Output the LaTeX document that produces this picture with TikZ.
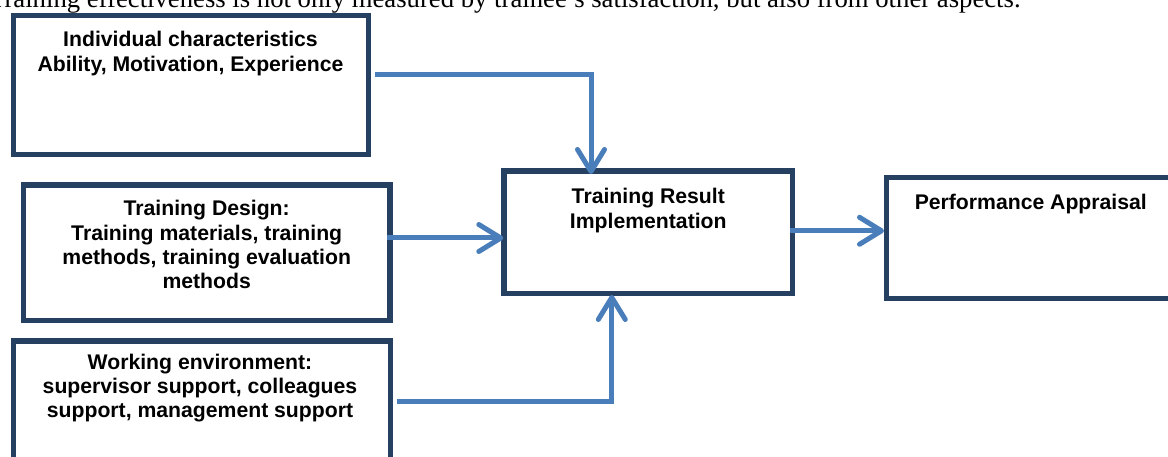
\documentclass[tikz,border=0pt]{standalone}
\usepackage{fontspec}
\newfontfamily\boxfont{Liberation Sans}
\newfontfamily\serffont{Liberation Serif}
\usetikzlibrary{arrows.meta,calc}
\definecolor{boxblue}{RGB}{38,64,97}
\definecolor{arrblue}{RGB}{74,126,187}
\begin{document}
\begin{tikzpicture}[x=1pt,y=-1pt,
  box/.style={draw=boxblue, line width=5.3pt, rectangle, inner sep=0pt, outer sep=0pt},
  lbl/.style={font={\boxfont\bfseries\fontsize{21.2}{24.4}\selectfont}, align=center, inner sep=0pt, outer sep=0pt, anchor=north},
  arr/.style={draw=arrblue, line width=5pt, -{Straight Barb[length=22pt,width=27pt,round]}}
]
\useasboundingbox (0,0) rectangle (1168,457);
\clip (0,0) rectangle (1168,457);

\node[font={\serffont\fontsize{26.7}{30}\selectfont}, anchor=base west, inner sep=0pt] (cap) at (-11,8) {Training effectiveness is not only measured by trainee’s satisfaction, but also from other aspects.};

\node[box, minimum width=355pt, minimum height=139pt] (b1) at (191,85) {};
\node[box, minimum width=366.7pt, minimum height=135.5pt] (b2) at (206.65,252.75) {};
\node[box, minimum width=377pt, minimum height=139pt] (b3) at (202,410.5) {};
\node[box, minimum width=288.7pt, minimum height=122.5pt] (b4) at (648.35,232.25) {};
\node[box, minimum width=288.3pt, minimum height=120.8pt] (b5) at (1030.85,237.9) {};

\node[lbl] (t1) at (190.5,30.7) {\rule{0pt}{16pt}Individual characteristics\\Ability, Motivation, Experience};
\node[lbl] (t2) at (206.7,199.7) {\rule{0pt}{16pt}Training Design:\\Training materials, training\\methods, training evaluation\\methods};
\node[lbl] (t3) at (200,353) {\rule{0pt}{16pt}Working environment:\\supervisor support, colleagues\\support, management support};
\node[lbl, font={\boxfont\bfseries\fontsize{21.2}{25.6}\selectfont}] (t4) at (648.3,187.3) {\rule{0pt}{16pt}Training Result\\Implementation};
\node[lbl] (t5) at (1030.8,194) {\rule{0pt}{16pt}Performance Appraisal};

\coordinate (s1) at ($(b1.east)+(6.5,-10.8)$);
\coordinate (e1) at ($(b4.north)+(-57.35,3)$);
\draw[arr] (s1) -| (e1);

\coordinate (s2) at ($(b2.east)+(-3,-14.75)$);
\coordinate (e2) at ($(b4.west |- s2)+(-0.7,0)$);
\draw[arr] (s2) -- (e2);

\coordinate (s3) at ($(b4.east)+(-2.7,-1.45)$);
\coordinate (e3) at ($(b5.west |- s3)+(-2.7,0)$);
\draw[arr] (s3) -- (e3);

\coordinate (s4) at ($(b3.east)+(6.8,-9)$);
\coordinate (e4) at ($(b4.south)+(-36.55,1.5)$);
\draw[arr] (s4) -| (e4);
\end{tikzpicture}
\end{document}
